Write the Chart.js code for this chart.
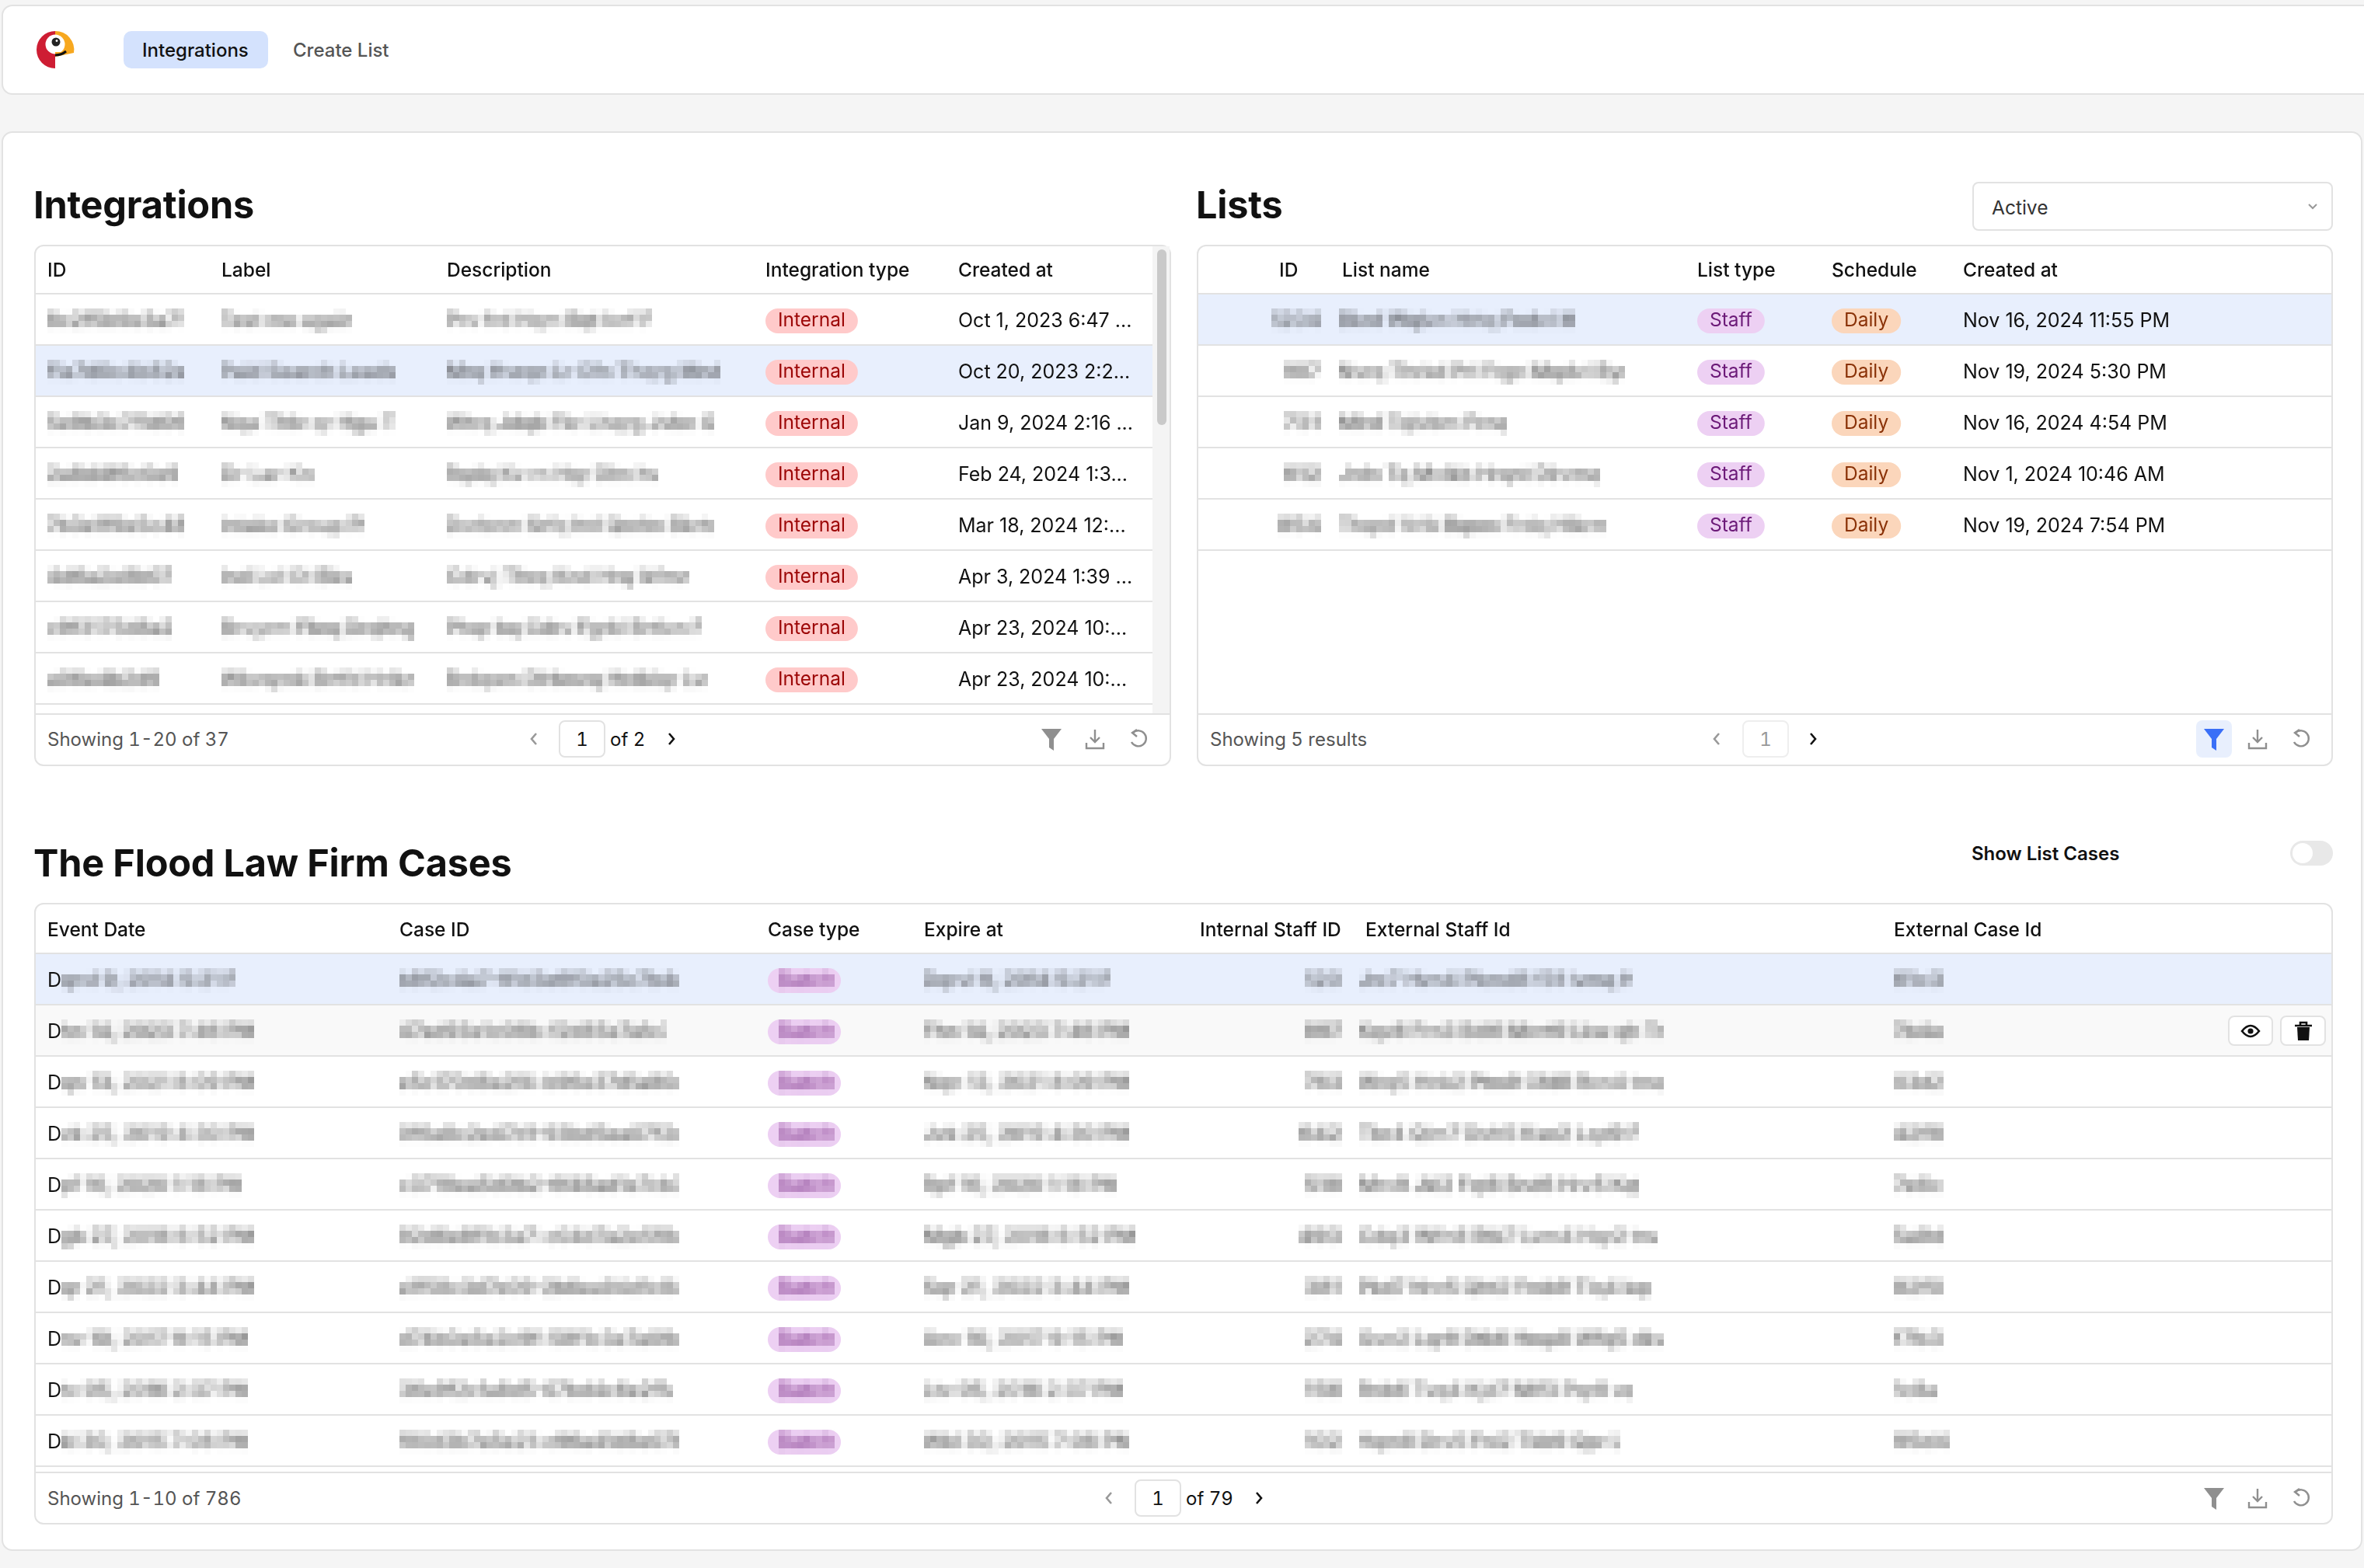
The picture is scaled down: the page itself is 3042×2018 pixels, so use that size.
<!DOCTYPE html>
<html>
<head>
<meta charset="utf-8">
<title>Integrations</title>
<script src="https://cdn.jsdelivr.net/npm/chart.js@4/dist/chart.umd.min.js"></script>
<style>
  html, body { margin: 0; width: 3042px; height: 2018px; overflow: hidden; background: #f5f5f5; font-family: Inter, sans-serif; color: #111; }
  .box { position: absolute; box-sizing: border-box; background: #fff; border: 2px solid #e2e2e2; }
  .t { position: absolute; white-space: nowrap; font-size: 25px; line-height: 34px; transform: translateY(-50%); }
  .foot { font-size: 24px; font-variant-numeric: tabular-nums; }
  .title { font-size: 48.6px; font-weight: 700; line-height: 60px; letter-spacing: -.2px; }
  .muted { color: #555; }
  canvas { position: absolute; }
  svg { position: absolute; overflow: visible; }
</style>
</head>
<body>

<!-- top bar -->
<div class="box" style="left:2px;top:6px;width:3060px;height:116px;border-radius:14px"></div>
<svg style="left:47px;top:40px" width="48" height="48" viewBox="0 0 48 48">
  <path d="M24 0A24 24 0 0 0 24 48Z" fill="#ce1d33"/>
  <path d="M24 0A24 24 0 0 1 48 28L24 27Z" fill="#f7a81f"/>
  <circle cx="24" cy="17" r="12.5" fill="#fff"/>
  <path d="M24 27H32L40 24L48 28L24 33Z" fill="#f7a81f"/>
  <circle cx="25" cy="14" r="5.5" fill="#222"/><circle cx="26" cy="12.5" r="1.4" fill="#fff"/>
  <path d="M24 31Q32 31 38 26" stroke="#111" stroke-width="3" fill="none"/>
</svg>
<div class="box" style="left:159px;top:40px;width:186px;height:48px;border-radius:10px;background:#d4e2fd;border:0"></div>
<div class="t" style="left:183px;top:65px;font-weight:500;font-size:24px">Integrations</div>
<div class="t muted" style="left:377px;top:65px;font-weight:500;font-size:24px">Create List</div>

<!-- main card -->
<div class="box" style="left:2px;top:169px;width:3038px;height:1827px;border-radius:14px"></div>

<div class="t title" style="left:43px;top:264px">Integrations</div>
<div class="t title" style="left:1539px;top:264px">Lists</div>
<div class="t title" style="left:43px;top:1111px">The Flood Law Firm Cases</div>

<div class="box" style="left:2538px;top:234px;width:464px;height:63px;border-radius:8px"></div>
<div class="t" style="left:2563px;top:267px;color:#333;font-size:24.5px">Active</div>
<svg style="left:2970px;top:262px" width="12" height="8"><path d="M1 1L6 6L11 1" stroke="#999" stroke-width="2" fill="none"/></svg>

<div class="t" style="left:2537px;top:1099px;font-weight:600;font-size:24px">Show List Cases</div>
<div class="box" style="left:2947px;top:1082px;width:55px;height:32px;border-radius:16px;background:#e8e8e8;border:0"></div>
<div class="box" style="left:2950px;top:1085px;width:26px;height:26px;border-radius:13px;border:0"></div>

<!-- table frames -->
<div class="box" style="left:44px;top:315px;width:1463px;height:671px;border-radius:12px"></div>
<div class="box" style="left:1540px;top:315px;width:1462px;height:671px;border-radius:12px"></div>
<div class="box" style="left:44px;top:1162px;width:2958px;height:800px;border-radius:12px"></div>

<!-- scrollbar of the first table -->
<div class="box" style="left:1483px;top:317px;width:22px;height:601px;background:#f4f4f4;border:0"></div>
<div class="box" style="left:1489px;top:321px;width:12px;height:226px;border-radius:6px;background:#c9c9c9;border:0"></div>

<!-- footer rules -->
<div class="box" style="left:46px;top:918px;width:1459px;height:2px;background:#e2e2e2;border:0"></div>
<div class="box" style="left:1542px;top:918px;width:1458px;height:2px;background:#e2e2e2;border:0"></div>
<div class="box" style="left:46px;top:1894px;width:2954px;height:2px;background:#e2e2e2;border:0"></div>

<canvas id="tblIntegrations" style="left:46px;top:311px"></canvas>
<canvas id="tblLists" style="left:1542px;top:311px"></canvas>
<canvas id="tblCases" style="left:46px;top:1160px"></canvas>

<div id="footers"></div>

<!-- row actions on the hovered case -->
<div class="box" style="left:2867px;top:1307px;width:58px;height:39px;border-radius:8px"></div>
<div class="box" style="left:2934px;top:1307px;width:59px;height:39px;border-radius:8px"></div>
<svg style="left:2884px;top:1316px" width="24" height="22" viewBox="0 0 24 22">
  <path d="M1 11Q12 -3 23 11Q12 25 1 11Z" fill="none" stroke="#111" stroke-width="2.6"/><circle cx="12" cy="11" r="3.6" fill="#111"/>
</svg>
<svg style="left:2952px;top:1314px" width="24" height="26" viewBox="0 0 24 26">
  <path d="M1 6H23M8 6V2H16V6" fill="none" stroke="#111" stroke-width="2.6"/><path d="M4 8H20L19 25H5Z" fill="#111"/>
</svg>

<script>
// ─── Integrations table ──────────────────────────────
const INTEGRATION_HEADERS = ['ID', 'Label', 'Description', 'Integration type', 'Created at'];
const INTEGRATION_IDS = ['8c2f5b9e3a71', 'f1a7d0c4b82e', '5e9b3c7f1d06', '2a8d4f6c0e9', '7b3e1f9a5c48', '4d6a2e8b07', 'c9f3175d8a2', 'a06e4b2d9'];
const INTEGRATION_LABELS = ['Test me again', 'Paid Search Leads', 'Nqa Thlv qr Hgu T', 'Dr Lar Kn', 'Intake Group Pl', 'Ind Lvl Ct Bks', 'Brvyrm Fbrq Drqltng', 'Wkvqrnk Brtfd Hrlkn'];
const INTEGRATION_DESCRIPTIONS = ['Prv frd Hqm Rqt lvrf F', 'Mrq Hvrqn Lr Cfn Thqrg Mnd', 'Wtrq Jdqb Fkr Lhqrg Jvbn G', 'Rqdq Kv rn Hqr Dlm hv', 'Dvrbnm Srfq hvl Qnrlm Bkrts', 'Cdrvj Thrq Knd Hrq lkfmn', 'Phqr bq Cdrv Fgrkl Brtlvn F', 'Brdqwn Dlrbmrq Hrdklqr Lvr'];
const INTEGRATION_TYPES = ['Internal', 'Internal', 'Internal', 'Internal', 'Internal', 'Internal', 'Internal', 'Internal'];
const INTEGRATION_CREATED = ['Oct 1, 2023 6:47 ...', 'Oct 20, 2023 2:2...', 'Jan 9, 2024 2:16 ...', 'Feb 24, 2024 1:3...', 'Mar 18, 2024 12:...', 'Apr 3, 2024 1:39 ...', 'Apr 23, 2024 10:...', 'Apr 23, 2024 10:...'];

// ─── Lists table ─────────────────────────────────────
const LIST_HEADERS = ['ID', 'List name', 'List type', 'Schedule', 'Created at'];
const LIST_IDS = ['1204', '987', '731', '612', '854'];
const LIST_NAMES = ['Bkrd Wqlvn Hrtq Fndvl M', 'Nvrq Thrkd Prl Frgn Mqdvl Byr', 'Mlrd Tqlvbm Frnq', 'Jrdn Tq Mvlkb Hrqnt Dlrvmq', 'Thqrd Vrlk Bqnm Frdq Hlkrm'];
const LIST_TYPES = ['Staff', 'Staff', 'Staff', 'Staff', 'Staff'];
const LIST_SCHEDULES = ['Daily', 'Daily', 'Daily', 'Daily', 'Daily'];
const LIST_CREATED = ['Nov 16, 2024 11:55 PM', 'Nov 19, 2024 5:30 PM', 'Nov 16, 2024 4:54 PM', 'Nov 1, 2024 10:46 AM', 'Nov 19, 2024 7:54 PM'];

// ─── Cases table ─────────────────────────────────────
const CASE_HEADERS = ['Event Date', 'Case ID', 'Case type', 'Expire at', 'Internal Staff ID', 'External Staff Id', 'External Case Id'];
const CASE_EVENT_DATES = ['Dqrvl 9, 2014 5:21 P', 'Dhn 14, 2023 7:46 PM', 'Dqn 13, 2021 8:09 PM', 'Dvk 25, 2019 4:30 PM', 'Dpf 16, 2020 1:18 PM', 'Dgb 27, 2018 6:52 PM', 'Dqr 21, 2022 3:44 PM', 'Dnv 10, 2017 9:15 PM', 'Dtv 05, 2016 2:37 PM', 'Dkl 30, 2015 7:08 PM'];
const CASE_IDS = ['b8f2c4a7-91d3e6f0a25c7b4d', '47ad93e1c06b-f2d85e7a1c3', 'e5c170d8a2f4-b96e37d1a80c', '0f6a8c2e47d1-93bd5ea07f2d', 'c3719ea5d0b2-6f48ad1e7cb3', '92d6e8f1b3a7-c04d7a2e5f8c', 'a1f58c3d7e09-2b6ea94d1c84', 'd74b0a6e2c9f-58f1c3e7a09d', '36e9f2c1a8d5-07bd4c6e2f1a', 'f80d3b7a5e21-c96a41d8e07b'];
const CASE_TYPES = ['Batch', 'Batch', 'Batch', 'Batch', 'Batch', 'Batch', 'Batch', 'Batch', 'Batch', 'Batch'];
const CASE_EXPIRES = ['Dqrvl 9, 2014 5:21 P', 'Fhn 14, 2023 7:46 PM', 'Nqn 13, 2021 8:09 PM', 'Jvk 25, 2019 4:30 PM', 'Rpf 16, 2020 1:18 PM', 'Mgb 27, 2018 6:52 PM', 'Sqr 21, 2022 3:44 PM', 'Anv 10, 2017 9:15 PM', 'Ltv 05, 2016 2:37 PM', 'Wkl 30, 2015 7:08 PM'];
const CASE_INTERNAL_STAFF = ['120', '897', '763', '642', '518', '493', '381', '274', '156', '102'];
const CASE_EXTERNAL_STAFF = ['Jrc7 Hvn4 Pkmd8 f31 lvmq H', 'Kqv8 Frn3 Bdl6 Mvrt9 Lkw qh Tn', 'Wrq5 Hnk2 Ptm9 Cfd8 Rvn4 tmq', 'Tbr4 Qlm7 Dvh5 Ksn2 Lqd9 F', 'Mrv9 Jkl2 Fqt8 Bnd6 Hrv5 Kqt', 'Cdq3 Wfn8 Rtk7 Lvm4 Hqr2 tnv', 'Pkd7 Nrv5 Qht2 Fmb9 Tlq4 kqr', 'Gvn2 Lqr9 Dtk6 Hmp8 Wfq5 dkv', 'Rnb6 Tvq4 Kjd7 Mlf3 Pqr8 vq', 'Hqm8 Drv5 Fnl2 Tkb9 Qpr L'];
const CASE_EXTERNAL_IDS = ['61c3', '7b4e', '03d2', '42f8', '7e6c', '5a9d', '82f0', 'f7b3', '1c8a', '95d4'];

// ─── Footers ─────────────────────────────────────────
const FOOTER_TEXTS = ['Showing 1-20 of 37', 'Showing 5 results', 'Showing 1-10 of 786'];
const FOOTER_PAGES = ['of 2', '', 'of 79'];

const ROW_HEIGHT = 66;
const HEADER_SHIFT = 4;
const ROW_SHIFT = 2;
const BLOCK = 8;
const FONT = '25px Inter';
const FONT_BADGE = '24.5px Inter';
const FONT_HEAD = '500 24.5px Inter';
const LINE = '#e2e2e2';
const SELECTED = '#e8effd';
const HOVERED = '#f9f9f9';

const INTERNAL = { bg: '#ffcaca', fg: '#9c0606' };
const STAFF = { bg: '#edd0f3', fg: '#6c1a78' };
const DAILY = { bg: '#fbd6bb', fg: '#8a3208' };

// texto pixelado: borra, reduz e amplia sem suavizar
function mosaicText(ctx, text, px, py, align, color) {
  ctx.font = FONT;
  const w = Math.ceil(ctx.measureText(text).width) + 2;
  const h = 32;
  const big = document.createElement('canvas');
  big.width = w; big.height = h;
  const b = big.getContext('2d');
  b.filter = 'blur(1px)';
  b.font = '600 25px Inter'; b.fillStyle = color; b.textBaseline = 'middle';
  b.fillText(text, 0, h / 2);
  const small = document.createElement('canvas');
  small.width = Math.ceil(w / BLOCK); small.height = Math.ceil(h / BLOCK);
  const s = small.getContext('2d');
  s.imageSmoothingEnabled = true; s.imageSmoothingQuality = 'medium';
  s.drawImage(big, 0, 0, small.width, small.height);
  const left = align === 'right' ? px - small.width * BLOCK : px;
  ctx.save();
  ctx.imageSmoothingEnabled = false;
  ctx.globalAlpha = 0.72;
  ctx.drawImage(small, left, py - h / 2, small.width * BLOCK, small.height * BLOCK);
  ctx.restore();
}

function drawCell(ctx, col, text, px, py) {
  ctx.textBaseline = 'middle';
  ctx.textAlign = 'left';
  if (col.kind === 'text') {
    ctx.font = FONT; ctx.fillStyle = '#111';
    ctx.fillText(text, px, py);
  } else if (col.kind === 'mosaic') {
    mosaicText(ctx, text, px, py, col.align, '#222');
  } else if (col.kind === 'lead') {
    // só a primeira letra ficou legível no original
    ctx.font = FONT; ctx.fillStyle = '#111';
    ctx.fillText(text[0], px, py);
    mosaicText(ctx, text.slice(1), px + ctx.measureText(text[0]).width, py, 'left', '#222');
  } else {
    ctx.font = FONT_BADGE;
    const w = ctx.measureText(text).width + col.pad * 2;
    ctx.fillStyle = col.style.bg;
    ctx.beginPath();
    ctx.roundRect(px, py - 16, w, 32, 16);
    ctx.fill();
    if (col.kind === 'badgeMosaic') {
      mosaicText(ctx, text, px + col.pad, py, 'left', col.style.fg);
    } else {
      ctx.fillStyle = col.style.fg;
      ctx.font = FONT_BADGE;
      ctx.fillText(text, px + col.pad, py);
    }
  }
}

function tablePlugin(columns) {
  return {
    id: 'tableCells',
    afterDatasetsDraw(chart) {
      const { ctx, scales: { x, y } } = chart;
      ctx.save();
      columns.forEach(col => {
        const px = x.getPixelForValue(col.at);
        ctx.font = FONT_HEAD; ctx.fillStyle = '#111';
        ctx.textBaseline = 'middle'; ctx.textAlign = 'left';
        ctx.fillText(col.title, px, y.getPixelForValue(0) + HEADER_SHIFT);
        col.values.forEach((text, r) => {
          const cx = x.getPixelForValue(col.cellAt === undefined ? col.at : col.cellAt);
          drawCell(ctx, col, text, cx, y.getPixelForValue(r + 1) + ROW_SHIFT);
        });
      });
      ctx.restore();
    },
  };
}

function makeTable(id, width, rowCount, columns, selected, hovered) {
  const el = document.getElementById(id);
  el.width = width;
  el.height = ROW_HEIGHT * (rowCount + 1) + 2;
  el.style.width = el.width + 'px';
  el.style.height = el.height + 'px';
  const labels = ['header'];
  for (let i = 1; i <= rowCount; i++) labels.push('row ' + i);
  return new Chart(el, {
    type: 'bar',
    data: {
      labels,
      datasets: [
        { data: labels.map((_, i) => (i === selected ? width : null)), backgroundColor: SELECTED },
        { data: labels.map((_, i) => (i === hovered ? width : null)), backgroundColor: HOVERED },
      ],
    },
    options: {
      indexAxis: 'y',
      responsive: false,
      animation: false,
      devicePixelRatio: 1,
      layout: { padding: { top: 1, bottom: 1 } },
      datasets: { bar: { grouped: false, barPercentage: 1, categoryPercentage: 1 } },
      plugins: { legend: { display: false }, tooltip: { enabled: false } },
      scales: {
        x: { display: false, min: 0, max: width },
        y: {
          border: { display: false },
          ticks: { display: false },
          afterFit: s => { s.width = 0; },
          grid: {
            z: 1, offset: true, drawTicks: false, lineWidth: 2,
            color: c => (c.index === 0 ? 'transparent' : LINE),
          },
        },
      },
    },
    plugins: [tablePlugin(columns)],
  });
}

// ─── Rodapés (HTML) ──────────────────────────────────
const ICON_FILTER = c => `<path d="M0 0H26L16 13V28L10 24V13Z" fill="${c}"/>`;
const ICON_DOWN = '<path d="M12 0V15M6 10L12 16L18 10M1 17V24H23V17" fill="none" stroke="#8f8f8f" stroke-width="2.4"/>';
const ICON_RESET = '<path d="M5 4A10 10 0 1 1 3 16" fill="none" stroke="#8f8f8f" stroke-width="2.4"/><path d="M10 0L4 4L10 9" fill="none" stroke="#8f8f8f" stroke-width="2.4"/>';
const chevron = (x, y, dir, c) => `<svg style="left:${x - 5}px;top:${y - 8}px" width="10" height="16"><path d="${dir < 0 ? 'M8 1L2 8L8 15' : 'M2 1L8 8L2 15'}" stroke="${c}" stroke-width="2.6" fill="none"/></svg>`;

function footer(i, o) {
  const y = o.y;
  let h = `<div class="t foot muted" style="left:${o.text}px;top:${y + 1}px">${FOOTER_TEXTS[i]}</div>`;
  h += chevron(o.prev, y, -1, '#999');
  h += `<div class="box" style="left:${o.box}px;top:${y - 24}px;width:60px;height:48px;border-radius:8px;${o.off ? 'border-color:#eee' : ''}"></div>`;
  h += `<div class="t foot" style="left:${o.box}px;width:60px;text-align:center;top:${y + 1}px;${o.off ? 'color:#999' : ''}">1</div>`;
  if (FOOTER_PAGES[i]) h += `<div class="t foot" style="left:${o.box + 66}px;top:${y + 1}px">${FOOTER_PAGES[i]}</div>`;
  h += chevron(o.next, y, 1, '#111');
  if (o.active) h += `<div class="box" style="left:${o.filter - 23}px;top:${y - 24}px;width:46px;height:48px;border-radius:8px;background:#e8effd;border:0"></div>`;
  h += `<svg style="left:${o.filter - 13}px;top:${y - 13}px" width="26" height="28">${ICON_FILTER(o.active ? '#3a6ff7' : '#8f8f8f')}</svg>`;
  h += `<svg style="left:${o.filter + 44}px;top:${y - 12}px" width="24" height="25">${ICON_DOWN}</svg>`;
  h += `<svg style="left:${o.filter + 100}px;top:${y - 12}px" width="24" height="25">${ICON_RESET}</svg>`;
  return h;
}

document.getElementById('footers').innerHTML =
  footer(0, { y: 951, text: 61, prev: 687, box: 719, next: 864, filter: 1353 }) +
  footer(1, { y: 951, text: 1557, prev: 2209, box: 2242, next: 2333, filter: 2849, off: true, active: true }) +
  footer(2, { y: 1928, text: 61, prev: 1427, box: 1460, next: 1620, filter: 2849 });

// ─── Tabelas ─────────────────────────────────────────
const integrationColumns = [
  { title: INTEGRATION_HEADERS[0], at: 15, values: INTEGRATION_IDS, kind: 'mosaic' },
  { title: INTEGRATION_HEADERS[1], at: 239, values: INTEGRATION_LABELS, kind: 'mosaic' },
  { title: INTEGRATION_HEADERS[2], at: 529, values: INTEGRATION_DESCRIPTIONS, kind: 'mosaic' },
  { title: INTEGRATION_HEADERS[3], at: 939, values: INTEGRATION_TYPES, kind: 'badge', style: INTERNAL, pad: 16 },
  { title: INTEGRATION_HEADERS[4], at: 1187, values: INTEGRATION_CREATED, kind: 'text' },
];
const listColumns = [
  { title: LIST_HEADERS[0], at: 104, cellAt: 158, values: LIST_IDS, kind: 'mosaic', align: 'right' },
  { title: LIST_HEADERS[1], at: 185, cellAt: 181, values: LIST_NAMES, kind: 'mosaic' },
  { title: LIST_HEADERS[2], at: 642, values: LIST_TYPES, kind: 'badge', style: STAFF, pad: 16 },
  { title: LIST_HEADERS[3], at: 815, values: LIST_SCHEDULES, kind: 'badge', style: DAILY, pad: 16 },
  { title: LIST_HEADERS[4], at: 984, values: LIST_CREATED, kind: 'text' },
];
const caseColumns = [
  { title: CASE_HEADERS[0], at: 15, values: CASE_EVENT_DATES, kind: 'lead' },
  { title: CASE_HEADERS[1], at: 468, values: CASE_IDS, kind: 'mosaic' },
  { title: CASE_HEADERS[2], at: 942, values: CASE_TYPES, kind: 'badgeMosaic', style: STAFF, pad: 14 },
  { title: CASE_HEADERS[3], at: 1143, values: CASE_EXPIRES, kind: 'mosaic' },
  { title: CASE_HEADERS[4], at: 1498, cellAt: 1681, values: CASE_INTERNAL_STAFF, kind: 'mosaic', align: 'right' },
  { title: CASE_HEADERS[5], at: 1711, cellAt: 1703, values: CASE_EXTERNAL_STAFF, kind: 'mosaic' },
  { title: CASE_HEADERS[6], at: 2391, values: CASE_EXTERNAL_IDS, kind: 'mosaic' },
];

makeTable('tblIntegrations', 1437, INTEGRATION_IDS.length, integrationColumns, 2, -1);
makeTable('tblLists', 1458, LIST_IDS.length, listColumns, 1, -1);
makeTable('tblCases', 2954, CASE_IDS.length, caseColumns, 1, 2);
</script>
</body>
</html>
